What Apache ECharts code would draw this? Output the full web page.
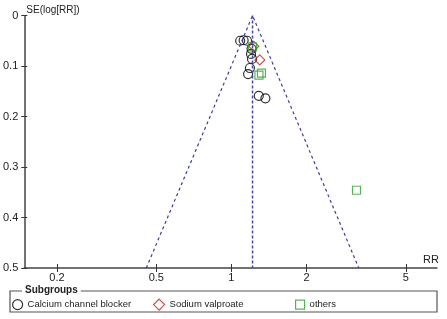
<!DOCTYPE html>
<html>
<head>
<meta charset="utf-8">
<script src="https://cdn.jsdelivr.net/npm/echarts@6/dist/echarts.min.js"></script>
<style>
  html, body { margin: 0; padding: 0; background: #fff; }
  #chart { width: 447px; height: 319px; }
</style>
</head>
<body>
<div id="chart"></div>
<script>
// funnel plot data, RR and SE(log[RR])
var ccbRR = [1.084, 1.119, 1.155, 1.204, 1.198, 1.209, 1.186, 1.166, 1.287, 1.368];
var ccbSE = [0.050, 0.049, 0.050, 0.066, 0.076, 0.086, 0.104, 0.116, 0.159, 0.164];
var valproateRR = [1.229, 1.299];
var valproateSE = [0.061, 0.088];
var othersRR = [1.215, 1.289, 1.319, 3.17];
var othersSE = [0.062, 0.118, 0.114, 0.346];
var pooledRR = 1.215;
var xTicks = [0.2, 0.5, 1, 2, 5];
var xMin = 0.148, xMax = 6.66;
var seMax = 0.5;

var font = "'Liberation Sans', Arial, sans-serif";
var textColor = '#222';

function pts(rr, se) {
  return rr.map((v, i) => [Math.log10(v), se[i]]);
}

// funnel: pooled +/- 1.96 * SE on the log scale
var p = Math.log(pooledRR);
var funnel = [
  [Math.log10(Math.exp(p - 1.96 * seMax)), seMax],
  [Math.log10(pooledRR), 0],
  [Math.log10(Math.exp(p + 1.96 * seMax)), seMax]
];
var pooledLine = [[Math.log10(pooledRR), 0], [Math.log10(pooledRR), seMax]];

var tickVals = xTicks.map(v => Math.log10(v));
function xLabel(val) {
  var best = xTicks[0];
  xTicks.forEach(t => { if (Math.abs(Math.log10(t) - val) < Math.abs(Math.log10(best) - val)) best = t; });
  return String(best);
}

var chart = echarts.init(document.getElementById('chart'));

var lineStyleAxis = { color: '#444', width: 1.5 };
var hollow = { color: 'rgba(0,0,0,0)', borderWidth: 1.2 };
var legendText = { color: textColor, fontSize: 9.5, fontFamily: font };

// second pair of axes only draws the other half of each tick (ticks cross the axis line)
var option = {
  animation: false,
  textStyle: { fontFamily: font },
  grid: { left: 21, right: 10, top: 15.5, bottom: 51, containLabel: false },
  xAxis: [{
    type: 'value',
    min: Math.log10(xMin),
    max: Math.log10(xMax),
    position: 'bottom',
    name: 'RR',
    nameLocation: 'end',
    nameGap: -14,
    nameTextStyle: { color: textColor, fontSize: 11, fontFamily: font, verticalAlign: 'bottom', align: 'left', padding: [0, 0, 3, 0] },
    axisLine: { onZero: false, lineStyle: lineStyleAxis },
    axisTick: { show: true, length: 4, customValues: tickVals, lineStyle: { color: '#333' } },
    axisLabel: { customValues: tickVals, formatter: xLabel, color: textColor, fontSize: 11, fontFamily: font, margin: 4 },
    splitLine: { show: false }
  }, {
    type: 'value',
    min: Math.log10(xMin),
    max: Math.log10(xMax),
    position: 'bottom',
    offset: -4,
    axisLine: { show: false, onZero: false },
    axisTick: { show: true, length: 4, customValues: tickVals, lineStyle: { color: '#333' } },
    axisLabel: { show: false },
    splitLine: { show: false }
  }],
  yAxis: [{
    type: 'value',
    inverse: true,
    min: 0,
    max: seMax,
    interval: 0.1,
    position: 'left',
    name: 'SE(log[RR])',
    nameLocation: 'start',
    nameGap: 0,
    nameTextStyle: { color: textColor, fontSize: 10, fontFamily: font, align: 'left', verticalAlign: 'bottom', padding: [0, 0, 0, 2] },
    axisLine: { onZero: false, lineStyle: lineStyleAxis },
    axisTick: { length: 3, lineStyle: { color: '#333' } },
    axisLabel: { color: textColor, fontSize: 11, fontFamily: font, margin: 6 },
    splitLine: { show: false }
  }, {
    type: 'value',
    inverse: true,
    min: 0,
    max: seMax,
    interval: 0.1,
    position: 'left',
    offset: -3,
    axisLine: { show: false, onZero: false },
    axisTick: { length: 3, lineStyle: { color: '#333' } },
    axisLabel: { show: false },
    splitLine: { show: false }
  }],
  legend: [
    { left: 12, top: 299, padding: 0, itemWidth: 10, itemHeight: 10, textStyle: legendText,
      data: [{ name: 'Calcium channel blocker', itemStyle: { color: 'rgba(0,0,0,0)', borderColor: '#000', borderWidth: 1.2 } }] },
    { left: 153, top: 298.5, padding: 0, itemWidth: 11, itemHeight: 11, textStyle: legendText,
      data: [{ name: 'Sodium valproate', itemStyle: { color: 'rgba(0,0,0,0)', borderColor: '#c81e1e', borderWidth: 1.2 } }] },
    { left: 295, top: 299.5, padding: 0, itemWidth: 9, itemHeight: 9, textStyle: legendText,
      data: [{ name: 'others', itemStyle: { color: 'rgba(0,0,0,0)', borderColor: '#2ea02e', borderWidth: 1.2 } }] }
  ],
  graphic: [
    { type: 'rect', z: -1, shape: { x: 10, y: 291, width: 427, height: 21 }, style: { fill: 'none', stroke: '#555', lineWidth: 1.2 } },
    { type: 'text', left: 22, top: 285, style: { text: 'Subgroups', font: 'bold 10px ' + font, fill: '#222', backgroundColor: '#fff', padding: [0, 3] } }
  ],
  series: [
    { name: 'funnel', type: 'line', data: funnel, symbol: 'none', silent: true,
      lineStyle: { color: '#3b3ba6', width: 1.2, type: [3, 3] } },
    { name: 'pooled', type: 'line', data: pooledLine, symbol: 'none', silent: true,
      lineStyle: { color: '#4747a8', width: 1.5, type: [3, 2] } },
    { name: 'Calcium channel blocker', type: 'scatter', data: pts(ccbRR, ccbSE), symbol: 'circle', symbolSize: 9,
      itemStyle: Object.assign({ borderColor: '#000' }, hollow) },
    { name: 'Sodium valproate', type: 'scatter', data: pts(valproateRR, valproateSE), symbol: 'diamond', symbolSize: 10,
      itemStyle: Object.assign({ borderColor: '#c81e1e' }, hollow) },
    { name: 'others', type: 'scatter', data: pts(othersRR, othersSE), symbol: 'rect', symbolSize: 8,
      itemStyle: Object.assign({ borderColor: '#2ea02e' }, hollow) }
  ]
};

chart.setOption(option);
</script>
</body>
</html>
